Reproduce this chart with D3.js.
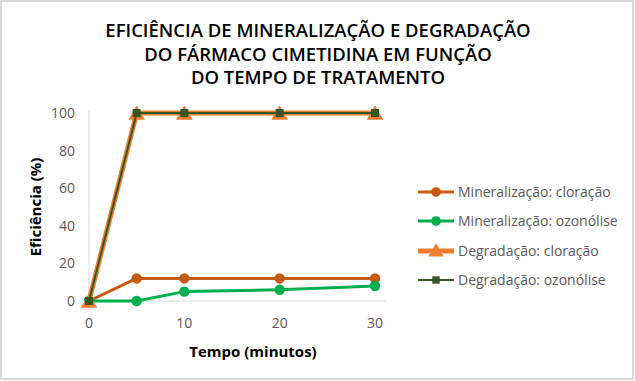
<!DOCTYPE html>
<html><head><meta charset="utf-8">
<script src="https://cdn.jsdelivr.net/npm/d3@7"></script>
<style>body{margin:0;background:#fff}svg{display:block}</style>
</head><body>
<script>
const times = [0, 5, 10, 20, 30];
const mineralCloracao = [0, 12, 12, 12, 12];
const mineralOzonolise = [0, 0, 5, 6, 8];
const degradCloracao = [0, 100, 100, 100, 100];
const degradOzonolise = [0, 100, 100, 100, 100];
const xTicks = [0, 10, 20, 30];
const yTicks = [0, 20, 40, 60, 80, 100];
const seriesNames = ["Mineralização: cloração", "Mineralização: ozonólise", "Degradação: cloração", "Degradação: ozonólise"];
const titleLines = ["EFICIÊNCIA DE MINERALIZAÇÃO E DEGRADAÇÃO", "DO FÁRMACO CIMETIDINA EM FUNÇÃO", "DO TEMPO DE TRATAMENTO"];

const W = 635, H = 381;
const svg = d3.select("body").append("svg").attr("width", W).attr("height", H);
svg.append("rect").attr("x", 1).attr("y", 1).attr("width", W - 3).attr("height", H - 3)
  .attr("fill", "#fff").attr("stroke", "#d9d9d9").attr("stroke-width", 2);

const font = "Open Sans, Liberation Sans, sans-serif";
const x = d3.scaleLinear().domain([0, 30]).range([89, 375]);
const y = d3.scaleLinear().domain([0, 100]).range([301, 113]);

// title
svg.append("g").selectAll("text").data(titleLines).join("text")
  .attr("x", 318).attr("y", (d, i) => 37 + i * 23.5)
  .attr("text-anchor", "middle").attr("font-family", font).attr("font-weight", 600)
  .attr("font-size", 18.5).attr("fill", "#000").text(d => d);

// axes lines
svg.append("line").attr("x1", x(0)).attr("x2", x(0)).attr("y1", y(100) - 3).attr("y2", y(0))
  .attr("stroke", "#d9d9d9").attr("stroke-width", 1);
svg.append("line").attr("x1", x(0)).attr("x2", 386).attr("y1", y(0)).attr("y2", y(0))
  .attr("stroke", "#d9d9d9").attr("stroke-width", 1);

// tick labels
svg.append("g").selectAll("text").data(yTicks).join("text")
  .attr("x", 75).attr("y", d => y(d) + 5).attr("text-anchor", "end")
  .attr("font-family", font).attr("font-size", 14).attr("fill", "#595959").text(d => d);
svg.append("g").selectAll("text").data(xTicks).join("text")
  .attr("x", d => x(d)).attr("y", 328).attr("text-anchor", "middle")
  .attr("font-family", font).attr("font-size", 14).attr("fill", "#595959").text(d => d);

// axis titles
svg.append("text").attr("x", 253).attr("y", 357).attr("text-anchor", "middle")
  .attr("font-family", font).attr("font-weight", 700).attr("font-size", 15).attr("fill", "#000")
  .text("Tempo (minutos)");
svg.append("text").attr("transform", "translate(41,207) rotate(-90)").attr("text-anchor", "middle")
  .attr("font-family", font).attr("font-weight", 700).attr("font-size", 15).attr("fill", "#000")
  .text("Eficiência (%)");

const series = [
  {name: seriesNames[0], vals: mineralCloracao, color: "#C55A11", width: 3, marker: "circle"},
  {name: seriesNames[1], vals: mineralOzonolise, color: "#00B050", width: 3, marker: "circle"},
  {name: seriesNames[2], vals: degradCloracao, color: "#ED7D31", width: 5, marker: "triangle"},
  {name: seriesNames[3], vals: degradOzonolise, color: "#375623", width: 2, marker: "square"}
];
const line = d3.line().x(d => x(d[0])).y(d => y(d[1]));
const symSize = {circle: 85, triangle: 120, square: 64};
const symType = {circle: d3.symbolCircle, triangle: d3.symbolTriangle, square: d3.symbolSquare};

series.forEach(s => {
  const pts = times.map((t, i) => [t, s.vals[i]]);
  const g = svg.append("g");
  g.append("path").attr("d", line(pts)).attr("fill", "none").attr("stroke", s.color)
    .attr("stroke-width", s.width).attr("stroke-linejoin", "round");
  g.selectAll("path.m").data(pts).join("path").attr("class", "m")
    .attr("transform", d => `translate(${x(d[0])},${y(d[1]) + (s.marker === "triangle" ? 2 : 0)})`)
    .attr("d", d3.symbol().type(symType[s.marker]).size(symSize[s.marker])())
    .attr("fill", s.color);
});

// legend
const legY = [192, 221, 251, 280];
series.forEach((s, i) => {
  const g = svg.append("g").attr("transform", `translate(0,${legY[i]})`);
  g.append("line").attr("x1", 418).attr("x2", 454).attr("y1", 0).attr("y2", 0)
    .attr("stroke", s.color).attr("stroke-width", s.width);
  g.append("path").attr("transform", `translate(436,${s.marker === "triangle" ? 1 : 0})`)
    .attr("d", d3.symbol().type(symType[s.marker]).size(symSize[s.marker] * 0.85)())
    .attr("fill", s.color);
  g.append("text").attr("x", 458).attr("y", 5).attr("font-family", font).attr("font-size", 14)
    .attr("fill", "#595959").text(s.name);
});
</script>
</body></html>
